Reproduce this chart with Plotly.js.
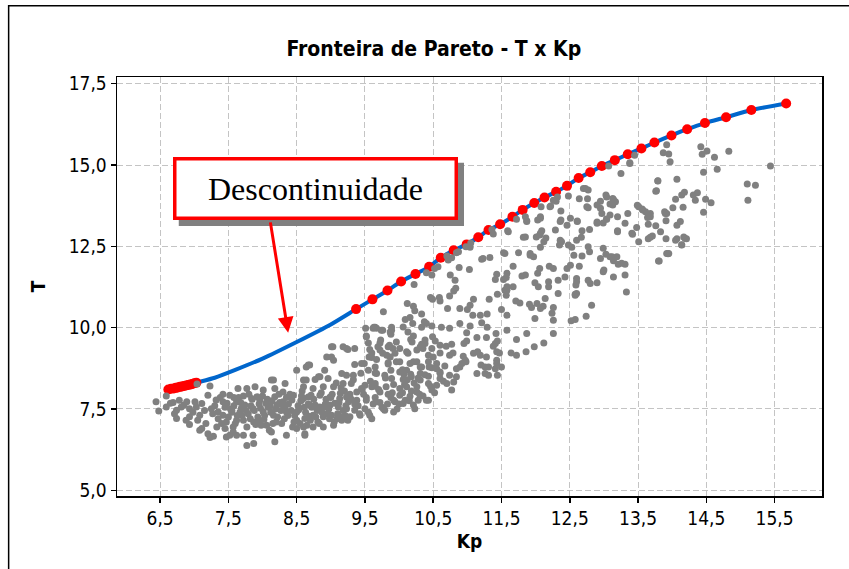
<!DOCTYPE html>
<html>
<head>
<meta charset="utf-8">
<script src="https://cdn.plot.ly/plotly-3.0.1.min.js"></script>
<style>
html,body{margin:0;padding:0;background:#fff;}
#chart{width:849px;height:569px;}
</style>
</head>
<body>
<div id="chart"></div>
<script>
// Pareto front (red points)
var frontKp = [6.62,6.66,6.70,6.73,6.76,6.79,6.82,6.85,6.88,6.91,6.94,6.97,7.00,7.03,
  9.37,9.61,9.83,10.03,10.24,10.44,10.61,10.80,10.99,11.16,11.31,11.48,11.66,11.81,11.98,
  12.13,12.30,12.46,12.63,12.80,12.97,13.16,13.35,13.55,13.74,13.99,14.22,14.48,14.79,15.16,15.67];
var frontT = [8.10,8.12,8.13,8.15,8.16,8.18,8.19,8.21,8.22,8.24,8.25,8.27,8.29,8.31,
  10.57,10.87,11.14,11.42,11.65,11.87,12.15,12.38,12.56,12.78,13.00,13.18,13.41,13.62,13.83,
  14.00,14.18,14.36,14.60,14.78,14.97,15.15,15.33,15.51,15.69,15.91,16.10,16.29,16.47,16.69,16.89];

// Blue front curve
var lineKp = [6.62,6.80,7.03,7.30,7.60,8.00,8.50,9.00,9.37,9.61,9.83,10.03,10.24,10.44,10.61,10.80,10.99,
  11.16,11.31,11.48,11.66,11.81,11.98,12.13,12.30,12.46,12.63,12.80,12.97,13.16,13.35,13.55,13.74,
  13.99,14.22,14.48,14.79,15.16,15.67];
var lineT = [8.10,8.18,8.31,8.46,8.70,9.05,9.56,10.10,10.57,10.87,11.14,11.42,11.65,11.87,12.15,12.38,12.56,
  12.78,13.00,13.18,13.41,13.62,13.83,14.00,14.18,14.36,14.60,14.78,14.97,15.15,15.33,15.51,15.69,
  15.91,16.10,16.29,16.47,16.69,16.89];

// Gray solutions cloud [Kp, T]
var cloudPts = [
[6.44,7.72],[6.48,7.44],[6.59,7.90],[6.59,7.56],[6.69,7.70],[6.74,7.46],[6.78,7.77],[6.81,7.56],[6.74,7.21],[6.89,7.72],
[6.93,7.51],[7.01,7.72],[7.03,7.56],[7.11,7.67],[7.04,8.27],[7.23,8.21],[7.20,7.92],[6.93,7.26],[6.93,7.02],[7.08,7.31],
[7.11,6.90],[7.20,6.74],[7.28,6.66],[7.25,7.51],[7.35,7.41],[7.42,7.72],[7.52,7.92],[7.64,8.13],[7.77,8.13],[7.89,8.18],
[8.01,8.08],[8.16,8.39],[8.18,8.13],[8.30,8.02],[8.50,8.69],[8.60,8.39],[7.42,7.31],[7.47,7.10],[7.45,6.90],[7.52,6.69],
[7.55,7.46],[7.62,7.72],[7.67,7.41],[7.72,7.15],[7.77,6.95],[7.77,6.38],[7.72,6.69],[7.86,6.69],[7.86,7.51],[7.84,7.82],
[7.96,7.77],[8.01,7.41],[7.94,7.15],[8.06,7.00],[8.13,6.79],[8.18,6.49],[8.16,7.31],[8.21,7.62],[8.30,7.72],[8.35,7.41],
[8.35,6.69],[8.50,6.90],[8.62,6.69],[8.50,7.41],[8.60,7.82],[8.45,7.92],[7.57,6.95],[7.33,6.95],[7.62,6.69],
[7.87,6.44],[7.23,6.62],[7.47,6.64],[7.57,6.79],[7.08,6.85],[8.67,8.85],[8.82,8.49],[9.01,9.41],[8.94,9.10],[9.23,9.36],
[9.35,9.36],[9.52,9.72],[9.77,10.49],[9.62,9.98],[8.13,8.39],[8.33,8.28],
[9.52,9.74],[9.51,9.98],[9.65,10.01],[9.74,9.92],[9.87,9.87],[9.89,10.01],[9.72,9.53],[9.84,9.41],[9.96,9.56],[9.72,9.31],
[9.57,9.33],[9.60,9.08],[9.67,9.02],[9.82,9.15],[9.94,9.21],[10.11,9.26],[10.19,9.56],[10.26,9.31],[10.38,9.51],[10.16,8.90],
[10.01,8.95],[9.84,8.92],[9.88,8.69],[10.01,8.64],[10.11,8.69],[10.26,8.95],[10.33,8.79],[10.43,8.95],[10.48,8.77],[9.55,8.69],
[9.65,8.61],[9.79,8.54],[9.89,8.44],[10.06,8.41],[10.18,8.49],[10.31,8.39],[10.43,8.51],[10.26,8.18],[10.11,8.18],[10.01,8.13],
[10.26,8.02],[10.28,7.77],[10.40,7.77],[10.48,8.08],[10.55,8.23],[10.43,8.28],[10.21,7.62],[9.92,7.41],[9.77,7.51],[9.66,7.72],
[9.94,7.72],[10.06,7.67],[10.01,7.92],[9.84,7.95],[9.72,8.02],[9.60,8.18],[9.50,8.23],[9.65,8.28],[9.81,8.18],[9.33,8.54],
[9.23,8.54],[9.16,8.59],[9.45,8.13],[9.38,8.02],[9.23,7.87],[9.04,8.18],[8.96,8.44],[8.84,8.49],[8.77,8.41],[8.64,8.39],
[8.60,8.18],[8.74,8.13],[8.89,8.18],[9.18,8.28],[9.30,8.28],[9.38,7.77],[9.52,7.77],[9.65,7.85],[9.13,7.82],[8.99,7.87],
[8.84,7.92],[8.67,7.87],[8.57,7.77],[8.69,7.62],[8.84,7.56],[8.99,7.62],[9.11,7.56],[9.23,7.51],[9.35,7.46],[9.50,7.51],
[9.57,7.31],[9.43,7.31],[9.28,7.26],[9.16,7.26],[9.01,7.31],[8.89,7.26],[8.74,7.31],[8.62,7.21],[8.60,6.95],[8.74,6.95],
[8.89,6.95],[9.04,7.00],[9.16,7.15],[8.62,6.74],[9.18,9.41],[9.03,9.41],[9.01,9.10],[9.04,9.00],[8.69,8.85],[8.64,8.79],
[8.91,8.69],[9.35,8.87],[9.45,8.90],[9.25,9.33],[9.92,7.77],[10.16,7.89],[10.23,7.51],[9.79,7.46],
[10.57,11.87],[10.48,11.62],[10.40,11.69],[10.77,12.15],[10.87,12.33],[10.98,12.49],[11.38,12.88],[11.21,12.10],[11.33,12.16],[11.55,12.28],
[11.03,11.79],[10.88,11.85],[10.75,11.62],[10.82,11.46],[10.83,11.21],[10.80,11.13],[11.43,11.64],[11.41,11.48],[11.53,11.48],[11.58,11.26],
[11.57,11.00],[11.44,11.03],[11.32,10.87],[11.09,10.87],[11.04,10.69],[10.74,10.97],[10.59,10.93],[10.49,10.87],[10.21,10.66],[10.23,10.52],
[10.16,10.31],[10.09,10.25],[10.33,10.42],[10.40,10.13],[10.33,10.01],[10.48,10.05],[10.71,10.59],[10.89,10.59],[11.00,10.56],[11.08,10.38],
[11.19,10.38],[11.29,10.42],[11.21,10.15],[11.29,10.01],[11.42,9.82],[11.44,9.59],[11.38,9.43],[11.28,9.70],[11.14,9.70],[10.99,9.84],
[11.04,10.05],[10.89,10.13],[10.74,9.98],[10.62,10.01],[10.69,9.43],[10.77,9.49],[10.60,9.22],[10.74,9.15],[10.79,9.22],[10.94,9.12],
[10.98,8.95],[11.15,9.26],[11.20,8.85],[11.26,8.79],[11.41,8.74],[11.50,8.79],[11.43,9.00],[11.31,8.54],[11.14,8.59],[10.84,8.49],
[10.74,8.54],[10.55,8.90],[10.43,9.15],[10.35,9.36],[10.33,9.49],[10.31,8.79],[10.21,8.95],[10.17,8.57],[10.05,8.71],[10.13,9.21],
[10.17,9.64],[10.13,9.87],[10.01,9.36],[9.91,9.36],[9.86,9.46],[9.73,9.62],[9.69,9.41],[9.76,9.21],[9.87,9.10],[9.84,8.88],
[9.96,8.95],[9.67,9.98],[9.76,9.92],[9.89,9.92],[9.88,9.80],[9.63,10.01],[9.55,9.53],[9.60,9.22],[9.56,9.10],[9.49,8.90],
[9.65,8.79],[9.67,8.59],[10.21,9.74],[10.20,10.13],[10.06,10.02],[10.46,10.93],[10.60,10.82],[10.12,10.74],[10.37,10.18],[10.49,9.72],
[10.60,9.46],[10.53,9.59],[10.99,9.59],[10.95,9.51],[11.09,9.21],[10.89,8.79],[10.44,8.79],[10.60,8.64],[10.67,8.82],[10.07,8.57],
[10.31,8.59],[11.50,10.56],[11.58,10.38],[11.58,9.92],[11.47,9.22],[11.28,9.10],[11.58,11.15],[11.58,11.67],
[13.07,14.97],[13.38,15.07],[13.25,14.74],[12.73,14.28],[12.77,14.23],[12.48,14.05],[12.64,13.96],[12.76,13.96],[12.95,13.89],[13.03,14.08],
[13.13,13.97],[13.17,13.87],[13.13,13.77],[12.77,13.69],[12.95,13.67],[12.97,13.51],[13.09,13.46],[13.04,13.34],[12.99,13.22],[12.90,13.25],
[13.20,13.41],[13.35,13.51],[13.49,13.76],[13.57,13.62],[13.31,13.21],[13.48,13.08],[13.20,12.98],[13.42,12.87],[13.65,12.73],[12.37,13.59],
[12.22,13.74],[12.30,13.89],[12.07,13.36],[12.03,13.31],[11.87,13.29],[12.37,13.31],[12.46,13.15],[12.61,13.28],[12.79,13.02],[12.68,12.98],
[11.59,12.98],[12.29,13.00],[12.09,12.98],[12.06,12.85],[12.01,12.79],[11.82,12.78],[12.15,12.76],[12.38,12.64],[12.48,12.54],[12.60,12.69],
[12.67,12.78],[12.53,12.47],[12.35,12.54],[12.07,12.47],[12.56,12.23],[12.68,12.20],[12.77,12.49],[12.79,12.33],[12.99,12.44],[13.03,12.26],
[13.09,12.18],[13.14,12.06],[13.21,11.95],[13.31,11.95],[13.00,11.77],[13.14,11.56],[13.31,11.62],[13.33,11.10],[12.82,10.69],[12.64,11.89],
[12.51,11.92],[12.46,11.82],[12.43,11.56],[12.60,11.51],[12.59,11.31],[12.60,11.05],[12.77,11.46],[12.90,11.38],[12.33,11.46],[12.26,11.82],
[12.20,11.89],[12.19,11.41],[12.19,11.26],[12.33,11.05],[12.03,11.67],[12.06,11.82],[11.99,11.38],[12.04,11.26],[11.92,12.23],[11.97,12.18],
[11.85,11.62],[11.80,11.59],[11.67,11.89],[11.57,11.54],[11.67,11.26],[11.55,11.15],[11.71,10.82],[11.77,10.76],[12.02,10.74],[12.11,10.66],
[12.26,10.62],[12.58,11.03],
[12.74,10.35],[12.58,10.25],[12.52,10.21],[12.26,9.82],[12.12,9.53],[11.98,9.41],[11.86,9.26],[11.72,9.15],[11.72,9.64],[11.87,9.82],
[11.99,10.28],[12.14,10.90],[12.24,10.44],[12.07,10.59],[11.91,10.72],[11.94,10.62],[11.64,9.22],[11.41,9.51],[11.43,9.26],[11.43,8.90],
[11.31,8.79],[11.19,9.15],[11.26,8.59],[11.44,8.54],[10.97,9.00],[10.92,8.90],[10.84,8.74],[10.80,8.33],[10.77,8.08],[10.43,7.77],
[10.09,7.77],[10.55,8.74],[10.70,8.28],[10.60,8.44],[10.50,9.10],[10.48,9.36],[10.31,9.41],[10.38,9.62],[12.26,10.23],[12.95,12.13],
[13.12,12.18],[13.26,11.98],[12.99,11.72],[12.80,11.36],[12.60,11.41],[12.58,11.00],[13.92,12.28],[13.80,12.05],[14.14,12.54],[14.19,12.74],
[13.92,15.62],[13.87,15.38],[13.95,15.34],[13.97,15.10],[14.42,15.56],[14.44,15.33],[14.51,15.43],[14.62,15.24],[14.83,15.42],[14.46,14.78],
[14.66,14.87],[15.44,14.97],[15.10,14.42],[15.22,14.38],[15.11,13.92],[13.79,14.51],[13.76,14.19],[14.07,14.56],[14.05,13.95],[14.14,14.08],
[14.18,14.16],[14.31,14.08],[14.37,14.15],[14.34,13.92],[14.49,13.95],[14.57,13.84],[14.46,13.55],[14.16,13.70],[14.01,13.69],[13.56,13.65],
[13.61,13.56],[13.68,13.51],[13.64,13.39],[13.65,13.18],[13.76,13.13],[13.89,13.56],[13.92,13.51],[13.91,13.29],[14.07,13.15],[14.12,13.26],
[13.68,12.78],[13.71,12.82],[13.91,12.73],[14.07,12.73],[14.21,12.73],[14.14,12.55],[13.94,12.27],[13.81,12.05],
[13.79,14.52],[13.77,14.21],[12.70,14.28],[12.26,13.92],[12.21,13.72],[12.07,13.41],[11.87,13.26],[11.85,12.79],[11.60,12.95],[12.07,12.90],
[12.12,12.64],[12.36,12.69],[12.51,13.36],[12.61,13.26],[12.36,13.26],[12.90,13.21],[13.04,13.33],[13.20,12.95],[13.51,13.72],[13.68,13.41],
[13.90,13.51],[14.17,12.79],[14.05,12.69],[13.83,12.95],[13.51,12.64],[13.41,12.90],[13.95,12.28],[13.19,12.18],[13.38,15.05],[13.04,14.02],
[13.14,13.94],[13.09,13.80],[11.23,12.13],[11.53,12.30],[11.75,12.30],[11.92,12.28],[10.70,12.20],[10.84,12.30],[11.04,12.47],[11.85,13.41],
[12.75,13.72],[12.90,13.77],
[10.22,11.33],[10.52,11.82],[10.72,12.08],[11.05,12.60],[11.36,13.02],[11.72,13.33],[12.08,13.72],[12.32,14.02],[13.45,15.30],
[7.30,7.60],[7.38,7.85],[7.45,7.55],[7.50,7.25],[7.58,7.60],[7.60,7.05],[7.65,7.85],[7.70,7.30],[7.74,7.62],[7.80,7.95],
[7.82,7.20],[7.88,7.45],[7.90,7.02],[7.95,7.65],[8.00,7.90],[8.03,7.30],[8.08,7.55],[8.10,6.85],[8.14,7.75],[8.20,7.10],
[8.24,7.95],[8.27,7.45],[8.32,7.20],[8.38,7.65],[8.40,7.95],[8.44,6.95],[8.47,7.30],[8.52,7.60],[8.55,7.05],[8.58,8.05],
[8.63,7.40],[8.67,7.65],[8.70,7.15],[8.75,7.80],[8.80,7.45],[8.83,7.05],[8.86,8.00],[8.92,7.65],[8.95,7.35],[9.00,7.85],
[9.05,7.10],[9.08,8.30],[9.12,7.70],[9.18,7.45],[9.20,8.05],[9.25,7.15],[9.30,7.80],[9.33,8.40],[9.40,7.60],[9.44,8.60],
[9.48,7.95],[9.55,7.40],[9.58,8.35],[9.62,7.65],[9.70,8.10],[9.75,7.55],[9.80,8.45],[9.88,7.85],[9.92,8.25],[9.97,7.50],
[10.05,8.00],[10.12,8.40],[10.15,7.75],[10.22,8.30],[10.35,7.90],[10.38,8.55],[10.46,8.20],[10.52,8.00],[10.60,8.60],[10.65,8.35],
[7.35,7.20],[7.42,7.95],[7.55,7.40],[7.62,7.15],[7.68,7.70],[7.76,7.45],[7.85,7.80],[7.93,7.25],[7.98,7.00],[8.05,7.68],
[8.12,7.40],[8.18,7.88],[8.22,7.25],[8.30,7.62],[8.35,7.85],[8.42,7.45],[8.50,7.15],[8.56,7.75],[8.65,7.00],[8.72,7.55],
[8.78,7.25],[8.90,7.55],[8.98,7.20],[9.02,7.95],[9.10,7.35],[9.15,8.15],[9.22,7.60],[9.28,7.95],[9.35,7.65],[9.42,7.35],
[9.46,8.10],[9.52,7.85],[9.60,7.20],[9.65,8.20],[9.72,7.70],[9.83,7.65],[9.90,8.00],[10.00,7.65],[10.08,8.25],[10.18,8.05],
[10.28,8.45],[10.30,7.95],
[7.27,7.35],[7.32,7.78],[7.40,7.05],[7.48,7.68],[7.53,7.50],[7.58,7.85],[7.63,7.30],[7.69,7.52],[7.72,7.90],[7.79,7.35],
[7.83,7.60],[7.87,7.10],[7.92,7.88],[7.97,7.52],[8.02,7.18],[8.07,7.80],[8.11,7.60],[8.15,7.05],[8.19,7.50],[8.25,7.70],
[8.28,7.05],[8.33,7.52],[8.37,7.30],[8.43,7.78],[8.46,7.10],[8.53,7.48],[8.57,7.90],[8.61,7.55],[8.68,7.28],[8.71,7.92],
[8.77,7.62],[8.81,7.10],[8.87,7.40],[8.93,7.80],[8.97,7.50],[9.06,7.68],[9.09,7.20],[9.14,7.98],[9.21,7.30],[9.26,7.72],
[6.98,7.40],[6.85,7.62],[6.65,7.68],[6.71,7.35],[7.15,7.45],[7.17,7.05],[6.88,7.15],[7.05,7.15]
];
var cloudKp = cloudPts.map(function(p){return p[0];});
var cloudT = cloudPts.map(function(p){return p[1];});

// Axis ticks
var xTickVals = [6.5,7.5,8.5,9.5,10.5,11.5,12.5,13.5,14.5,15.5];
var xTickText = ['6,5','7,5','8,5','9,5','10,5','11,5','12,5','13,5','14,5','15,5'];
var yTickVals = [5,7.5,10,12.5,15,17.5];
var yTickText = ['5,0','7,5','10,0','12,5','15,0','17,5'];

var titleText = 'Fronteira de Pareto - T x Kp';
var xTitle = 'Kp';
var yTitle = 'T';
var noteText = 'Descontinuidade';

var sans = "'DejaVu Sans Condensed', 'DejaVu Sans', sans-serif";

var traces = [
  {x: lineKp, y: lineT, mode: 'lines', type: 'scatter', line: {color: '#0066cc', width: 4, shape: 'spline', smoothing: 0.6}, hoverinfo: 'skip'},
  {x: frontKp, y: frontT, mode: 'markers', type: 'scatter', marker: {color: '#ff0000', size: 10}},
  {x: cloudKp, y: cloudT, mode: 'markers', type: 'scatter', marker: {color: '#808080', size: 7}}
];

var axisCommon = {
  showline: true, mirror: true, linecolor: '#000', linewidth: 1.5,
  ticks: 'outside', ticklen: 5, tickwidth: 1.5, tickcolor: '#000',
  showgrid: true, gridcolor: '#c4c4c4', gridwidth: 1, griddash: '6px,3px',
  zeroline: false, tickmode: 'array',
  tickfont: {family: sans, size: 19, color: '#000'}
};

var layout = {
  width: 849, height: 569,
  margin: {l: 117, r: 27, t: 77, b: 73},
  paper_bgcolor: '#fff', plot_bgcolor: '#fff',
  showlegend: false,
  font: {family: sans, color: '#000'},
  title: {text: '<b>' + titleText + '</b>', font: {family: sans, size: 21, color: '#000'},
          x: 0.511, xref: 'container', xanchor: 'center', y: 0.915, yref: 'container', yanchor: 'middle'},
  xaxis: Object.assign({}, axisCommon, {
    range: [5.868, 16.195], tickvals: xTickVals, ticktext: xTickText,
    title: {text: '<b>' + xTitle + '</b>', font: {family: sans, size: 19, color: '#000'}, standoff: 6}
  }),
  yaxis: Object.assign({}, axisCommon, {
    range: [4.825, 17.706], tickvals: yTickVals, ticktext: yTickText,
    title: {text: '<b>' + yTitle + '</b>', font: {family: sans, size: 19, color: '#000'}, standoff: 18}
  }),
  shapes: [
    {type: 'rect', xref: 'paper', yref: 'paper', x0: -0.1537, x1: 1.2, y0: -0.3, y1: 1.17,
     line: {color: '#000', width: 1.5}, fillcolor: 'rgba(0,0,0,0)', layer: 'below'},
    {type: 'rect', xref: 'paper', yref: 'paper', x0: 0.0876, x1: 0.4922, y0: 0.6446, y1: 0.7952,
     line: {width: 0}, fillcolor: '#808080', layer: 'above'}
  ],
  annotations: [
    {xref: 'paper', yref: 'paper', x: 0.2814, y: 0.7342, xanchor: 'center', yanchor: 'middle',
     text: noteText, showarrow: false, font: {family: "'Liberation Serif', 'Times New Roman', serif", size: 32, color: '#000'},
     bgcolor: '#fff', bordercolor: '#ff0000', borderwidth: 3.5, borderpad: 1, width: 276, height: 54},
    {x: 8.375, y: 9.84, xref: 'x', yref: 'y', text: '', showarrow: true, ax: -18, ay: -112,
     arrowcolor: '#ff0000', arrowwidth: 3, arrowhead: 2, arrowsize: 1.05}
  ]
};

Plotly.newPlot('chart', traces, layout, {displayModeBar: false, staticPlot: true});
</script>
</body>
</html>
